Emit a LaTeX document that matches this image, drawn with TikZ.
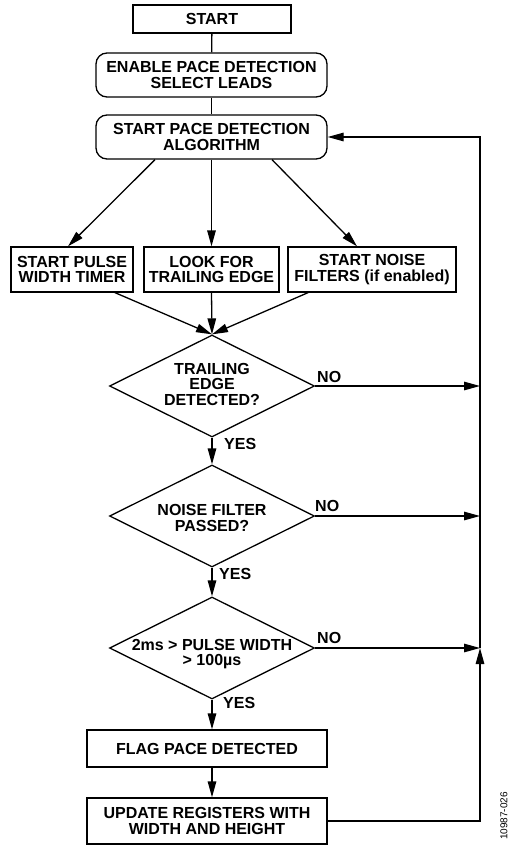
\documentclass[tikz,border=0pt]{standalone}
\usepackage{fontspec}
\setmainfont{Liberation Sans}
\usetikzlibrary{shapes.geometric,arrows.meta}
\begin{document}
\begin{tikzpicture}[x=1pt,y=-1pt,
  lbl/.style={font=\bfseries\fontsize{16}{15.5}\selectfont, align=center, inner sep=0pt},
  box/.style={draw, line width=1.3pt, lbl},
  rbox/.style={box, rounded corners=11pt},
  dia/.style={draw, diamond, line width=1.3pt, inner sep=0pt, minimum width=205pt, minimum height=102pt},
  arr/.style={line width=1.3pt, -{Triangle[length=16pt,width=8.5pt]}},
  ln/.style={line width=1.3pt},
  side/.style={font=\fontsize{10}{11}\selectfont, inner sep=0pt, rotate=90}]
\useasboundingbox (0,0) rectangle (508,845);
% boxes
\node[box, minimum width=158pt, minimum height=28pt] (start) at (212,19) {START};
\node[rbox, minimum width=231pt, minimum height=44pt] (enable) at (211.5,75) {ENABLE PACE DETECTION\\SELECT LEADS};
\node[rbox, minimum width=231pt, minimum height=44pt] (algo) at (211.5,137) {START PACE DETECTION\\ALGORITHM};
\node[box, minimum width=122pt, minimum height=45pt] (b1) at (72,269.5) {START PULSE\\WIDTH TIMER};
\node[box, minimum width=135pt, minimum height=45pt] (b2) at (211.5,269.5) {LOOK FOR\\TRAILING EDGE};
\node[box, minimum width=168pt, minimum height=45pt] (b3) at (372,269.5) {START NOISE\\FILTERS (if enabled)};
% decisions
\node[dia] (d1) at (212,386) {};
\node[lbl] (d1t) at (212,384) {TRAILING\\EDGE\\DETECTED?};
\node[dia] (d2) at (212,516) {};
\node[lbl] (d2t) at (212,518) {NOISE FILTER\\PASSED?};
\node[dia] (d3) at (212,648) {};
\node[lbl] (d3t) at (212,654) {2ms > PULSE WIDTH\\> 100µs};
\node[box, minimum width=240pt, minimum height=37pt] (flag) at (207,748.5) {FLAG PACE DETECTED};
\node[box, minimum width=240pt, minimum height=46pt] (upd) at (207,821) {UPDATE REGISTERS WITH\\WIDTH AND HEIGHT};
% right return line coordinates
\coordinate (r1) at (480,821);
\coordinate (r3) at (480,648);
\coordinate (rt) at (480,137);
\coordinate (n1) at (480,386);
\coordinate (n2) at (480,516);
% connectors
\draw[ln] (start) -- (enable);
\draw[ln] (enable) -- (algo);
\draw[arr] ([xshift=-56.5pt]algo.south) -- ([xshift=-4pt]b1.north);
\draw[arr] (algo.south) -- (b2.north);
\draw[arr] ([xshift=60.5pt]algo.south) -- ([xshift=-15pt]b3.north);
\draw[arr] ([xshift=43pt]b1.south) -- (d1.north);
\draw[arr] (b2.south) -- (d1.north);
\draw[arr] ([xshift=-64pt]b3.south) -- (d1.north);
\draw[arr] (d1.south) -- (d2.north);
\draw[arr] (d2.south) -- (d3.north);
\draw[arr] (d3.south) -- (d3.south |- flag.north);
\draw[arr] (flag.south -| d3.south) -- (d3.south |- upd.north);
\draw[arr] (d1.east) -- (n1);
\draw[arr] (d2.east) -- (n2);
\draw[arr] (d3.east) -- (r3);
\draw[arr] (upd.east |- r1) -- (r1) -- (r3);
\draw[arr] (r3) -- (rt) -- (algo.east);
% labels
\node[lbl, anchor=west] (no1) at (317,377) {NO};
\node[lbl, anchor=west] (no2) at (315,506) {NO};
\node[lbl, anchor=west] (no3) at (317,638) {NO};
\node[lbl, anchor=west] (y1) at (224,444) {YES};
\node[lbl, anchor=west] (y2) at (219,574) {YES};
\node[lbl, anchor=west] (y3) at (223,703) {YES};
\node[side] (code) at (504,816) {10987-026};
\end{tikzpicture}
\end{document}
